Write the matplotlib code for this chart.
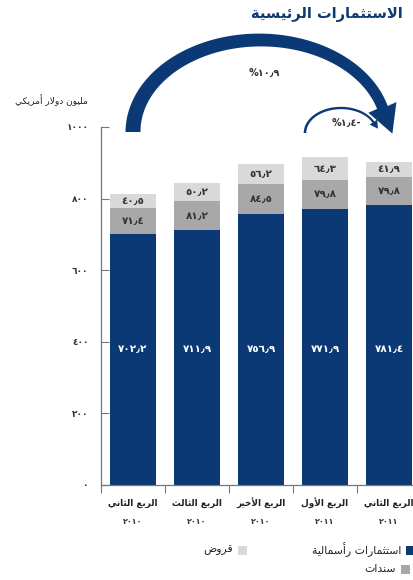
import unicodedata
import numpy as np
import matplotlib
matplotlib.use("Agg")
import matplotlib.pyplot as plt
from matplotlib.transforms import Affine2D, blended_transform_factory
from matplotlib.patches import Polygon, Rectangle

# ---------------- data ----------------
quarters = ["الربع الثاني", "الربع الثالث", "الربع الأخير", "الربع الأول", "الربع الثاني"]
years = ["٢٠١٠", "٢٠١٠", "٢٠١٠", "٢٠١١", "٢٠١١"]
equity = [702.2, 711.9, 756.9, 771.9, 781.4]
bonds = [71.4, 81.2, 84.5, 79.8, 79.8]
loans = [40.5, 50.2, 56.2, 64.3, 41.9]
equity_lbl = ["٧٠٢٫٢", "٧١١٫٩", "٧٥٦٫٩", "٧٧١٫٩", "٧٨١٫٤"]
bonds_lbl = ["٧١٫٤", "٨١٫٢", "٨٤٫٥", "٧٩٫٨", "٧٩٫٨"]
loans_lbl = ["٤٠٫٥", "٥٠٫٢", "٥٦٫٢", "٦٤٫٣", "٤١٫٩"]
yticks = [0, 200, 400, 600, 800, 1000]
ytick_lbl = ["٠", "٢٠٠", "٤٠٠", "٦٠٠", "٨٠٠", "١٠٠٠"]
series_names = ["استثمارات رأسمالية", "سندات", "قروض"]
title = "الاستثمارات الرئيسية"
unit_lbl = "مليون دولار أمريكي"
growth_long = "%١٠٫٩"
growth_short = "%١٫٤-"

NAVY = "#0b3975"
MID = "#a8a8a8"
LIGHT = "#d9d9d9"

# ---------------- Arabic shaping (visual order) ----------------
def _build_forms():
    forms = {}
    for cp in range(0xFE70, 0xFEFD):
        ch = chr(cp)
        try:
            name = unicodedata.name(ch)
        except ValueError:
            continue
        for f in ("ISOLATED", "FINAL", "INITIAL", "MEDIAL"):
            suf = " " + f + " FORM"
            if name.startswith("ARABIC LETTER ") and name.endswith(suf):
                try:
                    b = unicodedata.lookup(name[:-len(suf)])
                except KeyError:
                    continue
                forms.setdefault(b, {})[f] = ch
    return forms

FORMS = _build_forms()
LAMALEF = {"\u0627": ("\uFEFB", "\uFEFC"), "\u0623": ("\uFEF7", "\uFEF8"),
           "\u0625": ("\uFEF9", "\uFEFA"), "\u0622": ("\uFEF5", "\uFEF6")}

def ar(s):
    out = []
    n = len(s)
    i = 0
    def dual(c):
        return c in FORMS and "INITIAL" in FORMS[c]
    while i < n:
        c = s[i]
        if c not in FORMS:
            out.append(c)
            i += 1
            continue
        prev = s[i - 1] if i > 0 else ""
        pj = dual(prev) and not (prev == "\u0644" and c in LAMALEF)
        if c == "\u0644" and i + 1 < n and s[i + 1] in LAMALEF:
            iso, fin = LAMALEF[s[i + 1]]
            out.append(fin if pj else iso)
            i += 2
            continue
        nxt = s[i + 1] if i + 1 < n else ""
        nj = dual(c) and nxt in FORMS
        f = FORMS[c]
        if pj and nj:
            out.append(f.get("MEDIAL", c))
        elif pj:
            out.append(f.get("FINAL", c))
        elif nj:
            out.append(f.get("INITIAL", c))
        else:
            out.append(f.get("ISOLATED", c))
        i += 1
    return "".join(out)[::-1]

plt.rcParams["font.family"] = ["DejaVu Sans"]

W, H = 414, 580
fig = plt.figure(figsize=(W / 100, H / 100), dpi=100)
PX = Affine2D().scale(1, -1).translate(0, H)  # pixel coords, y down

# axes: left 101px, baseline 485px, 1000 at 127px
left, base, top = 101, 485, 127
ax = fig.add_axes([left / W, (H - base) / H, (W - left) / W, (base - top) / H])
ax.set_xlim(-0.5, -0.5 + (W - left) / 64)
ax.set_ylim(0, 1000)

x = np.arange(len(equity))
bw = 0.72
eq = np.array(equity)
bo = np.array(bonds)
lo = np.array(loans)
ax.bar(x, eq, bw, color=NAVY, linewidth=0)
ax.bar(x, bo, bw, bottom=eq, color=MID, linewidth=0)
ax.bar(x, lo, bw, bottom=eq + bo, color=LIGHT, linewidth=0)

for i in x:
    ax.text(i, 380, equity_lbl[i], ha="center", va="center", color="white",
            fontsize=7.5, fontweight="bold")
    ax.text(i, eq[i] + bo[i] / 2, bonds_lbl[i], ha="center", va="center",
            color="#333333", fontsize=7.5, fontweight="bold")
    ax.text(i, eq[i] + bo[i] + lo[i] / 2, loans_lbl[i], ha="center", va="center",
            color="#333333", fontsize=7.5, fontweight="bold")

for s in ("top", "right"):
    ax.spines[s].set_visible(False)
for s in ("left", "bottom"):
    ax.spines[s].set_color("#777777")
    ax.spines[s].set_linewidth(0.9)
ax.set_yticks(yticks)
ax.set_yticklabels(ytick_lbl, fontsize=6.5, fontweight="bold", color="#333333")
ax.tick_params(axis="y", direction="in", length=6, width=0.8, color="#777777", pad=9)
ax.set_xticks(np.arange(len(equity)) - 0.5)
ax.set_xticklabels([])
ax.tick_params(axis="x", direction="out", length=6, width=0.8, color="#777777")

bt = blended_transform_factory(ax.transData, PX)
for i in x:
    ax.text(i, 503, ar(quarters[i]), transform=bt, ha="center", va="center",
            fontsize=6.4, fontweight="bold", color="#222222", clip_on=False)
    ax.text(i, 522, years[i], transform=bt, ha="center", va="center",
            fontsize=5.8, fontweight="bold", color="#333333", clip_on=False)

# ---------------- arrows ----------------
fig.canvas.draw()
def bar_px(i):
    return ax.transData.transform((i, 0))[0]

def arc_arrow(cx, cy, a, b, t1, w0, w1, hw, hl, color):
    ts = np.linspace(np.pi, t1, 120)
    ws = np.linspace(w0, w1, 120)
    ox = cx + (a + ws / 2) * np.cos(ts)
    oy = cy - (b + ws / 2) * np.sin(ts)
    ix = cx + (a - ws / 2) * np.cos(ts)
    iy = cy - (b - ws / 2) * np.sin(ts)
    p = np.array([cx + a * np.cos(t1), cy - b * np.sin(t1)])
    d = np.array([a * np.sin(t1), b * np.cos(t1)])
    d /= np.linalg.norm(d)
    nrm = np.array([d[1], -d[0]])
    h1 = p + nrm * hw / 2
    h2 = p - nrm * hw / 2
    tip = p + d * hl
    outer = np.column_stack([ox, oy])
    inner = np.column_stack([ix, iy])[::-1]
    if np.linalg.norm(h1 - outer[-1]) > np.linalg.norm(h2 - outer[-1]):
        h1, h2 = h2, h1
    pts = np.vstack([outer, [h1, tip, h2], inner])
    fig.patches.append(Polygon(pts, closed=True, transform=PX, color=color,
                               linewidth=0, figure=fig))

x0, x4 = bar_px(0), bar_px(4)
arc_arrow((x0 + x4) / 2 - 1, 132, (x4 - x0) / 2 - 1, 92, 0.27, 15, 11, 30, 28, NAVY)
x3 = bar_px(3)
arc_arrow((x3 - 20 + x4 - 12) / 2, 133, (x4 - 12 - (x3 - 20)) / 2, 25, 0.45, 2.6, 2.2, 9, 8, NAVY)

fig.text(264, 73, growth_long, transform=PX, ha="center", va="center",
         fontsize=7, fontweight="bold", color="#333333")
fig.text(346, 123, growth_short, transform=PX, ha="center", va="center",
         fontsize=7, fontweight="bold", color="#333333")

# ---------------- titles ----------------
fig.text(403, 14, ar(title), transform=PX, ha="right", va="center",
         fontsize=10.5, fontweight="bold", color=NAVY)
fig.text(88, 100, ar(unit_lbl), transform=PX, ha="right", va="center",
         fontsize=6.5, color="#222222")

# ---------------- legend ----------------
leg = [(series_names[0], NAVY, 406, 550), (series_names[2], LIGHT, 238, 550),
       (series_names[1], MID, 401, 569)]
for name, col, sx, sy in leg:
    fig.patches.append(Rectangle((sx, sy - 4.5), 9, 9, transform=PX, color=col,
                                 linewidth=0, figure=fig))
    fig.text(sx - 5, sy, ar(name), transform=PX, ha="right", va="center",
             fontsize=7.8, color="#222222")

fig.savefig("out.png", dpi=100)
